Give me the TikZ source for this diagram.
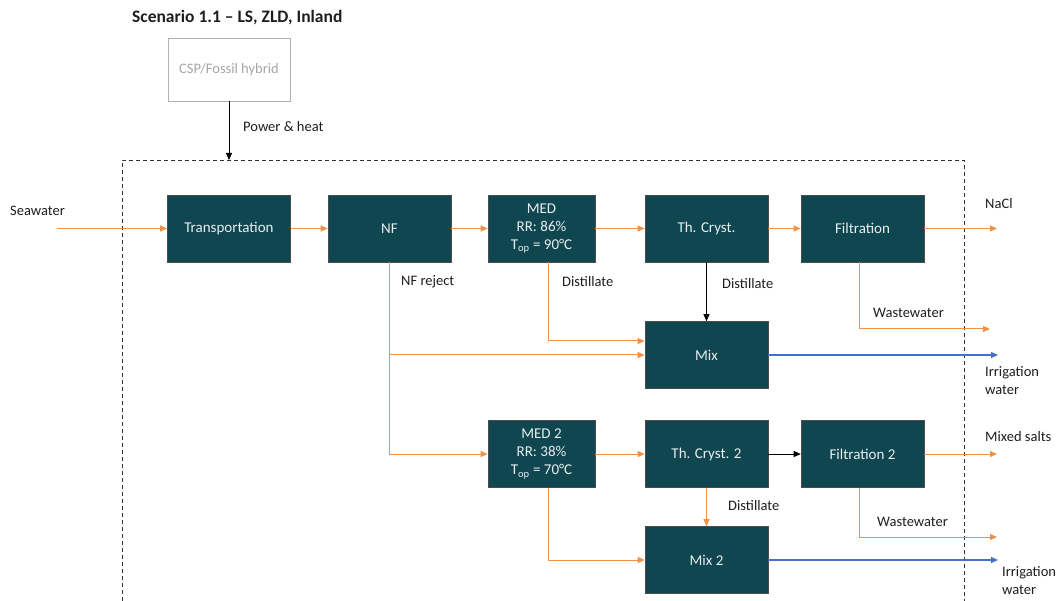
\documentclass[tikz,border=0pt]{standalone}
\usepackage{fontspec}
\setmainfont{Carlito}
\usetikzlibrary{arrows.meta,calc}
\definecolor{teal}{HTML}{10464F}
\definecolor{orng}{HTML}{F0914A}
\definecolor{blu}{HTML}{4472C4}
\definecolor{txt}{HTML}{1E1E1E}
\definecolor{boxtxt}{HTML}{E8EEF0}
\tikzset{
  box/.style={draw=black!70, line width=0.6pt, fill=teal, text=boxtxt, minimum width=123pt, minimum height=67pt, inner sep=0pt, align=center, font=\fontsize{15}{18}\selectfont},
  medbox/.style={box, minimum width=107pt},
  lbl/.style={anchor=west, text=txt, inner sep=0pt, font=\fontsize{14.5}{18}\selectfont, align=left},
  tip/.style={-{Triangle[length=7pt,width=6pt]}},
  oarr/.style={tip, draw=orng, line width=1pt},
  barr/.style={tip, draw=blu, line width=1.1pt},
  karr/.style={tip, draw=black, line width=0.9pt},
}
\begin{document}
\begin{tikzpicture}[x=1pt,y=-1pt]
\useasboundingbox (0,0) rectangle (1060,601);
% title
\node[lbl, font=\fontsize{17.5}{20}\selectfont\bfseries] (title) at (132,18) {Scenario 1.1 – LS, ZLD, Inland};
% CSP
\node[draw=black!30, line width=0.8pt, minimum width=122pt, minimum height=63pt, text=black!35, font=\fontsize{14.5}{16}\selectfont] (csp) at (229,69.5) {CSP/Fossil hybrid};
\coordinate (bnd) at (229,160);
\draw[karr] (csp.south) -- (bnd);
\node[lbl] (ph) at (243,127) {Power \& heat};
% dashed boundary
\draw[dashed, dash pattern=on 4pt off 3pt, line width=0.8pt, black!80] (122,601) -- (122,160) -- (964,160) -- (964,601);
% main row
\node[box] (trans) at (229,228.5) {Transportation};
\node[box] (nf) at (389.5,228.5) {NF};
\node[medbox] (med) at (541.5,228.5) {MED\\RR: 86\%\\T\textsubscript{op} = 90°C};
\node[box] (cryst) at (706.5,228.5) {Th. Cryst.};
\node[box] (filt) at (862.5,228.5) {Filtration};
\node[box] (mix) at (706.5,355) {Mix};
\node[medbox] (med2) at (541.5,454) {MED 2\\RR: 38\%\\T\textsubscript{op} = 70°C};
\node[box] (cryst2) at (706.5,454) {Th. Cryst. 2};
\node[box] (filt2) at (862.5,454) {Filtration 2};
\node[box] (mix2) at (706.5,560) {Mix 2};
% inputs/outputs
\coordinate (sw) at (57,228.5);
\node[lbl] (swl) at (10,211) {Seawater};
\draw[oarr] (sw) -- (trans.west);
\draw[oarr] (trans.east) -- (nf.west);
\draw[oarr] (nf.east) -- (med.west);
\draw[oarr] (med.east) -- (cryst.west);
\draw[oarr] (cryst.east) -- (filt.west);
\coordinate (nacl) at (997,228.5);
\draw[oarr] (filt.east) -- (nacl);
\node[lbl] (nacll) at (985,204) {NaCl};
\coordinate (ww1) at (990,329);
\draw[oarr] ([xshift=-3pt]filt.south) |- (ww1);
\node[lbl] (ww1l) at (873,313) {Wastewater};
\draw[karr] (cryst.south) -- (mix.north);
\node[lbl] (d1) at (722,284) {Distillate};
\draw[oarr] ([xshift=6.5pt]med.south) |- ([yshift=14pt]mix.west);
\node[lbl] (d2) at (562,282) {Distillate};
\draw[oarr] (nf.south) |- (mix.west);
\draw[oarr] (nf.south) |- (med2.west);
\node[lbl] (nfr) at (401,282) {NF reject};
\coordinate (irr1) at (998,355);
\draw[barr] (mix.east) -- (irr1);
\node[lbl] (irr1l) at (985,381) {Irrigation\\water};
% second row
\draw[oarr] (med2.east) -- (cryst2.west);
\draw[karr] (cryst2.east) -- (filt2.west);
\coordinate (ms) at (997,454);
\draw[oarr] (filt2.east) -- (ms);
\node[lbl] (msl) at (985,437) {Mixed salts};
\coordinate (ww2) at (997,537);
\draw[oarr] ([xshift=-3pt]filt2.south) |- (ww2);
\node[lbl] (ww2l) at (877,522) {Wastewater};
\draw[oarr] (cryst2.south) -- (mix2.north);
\node[lbl] (d3) at (728,506) {Distillate};
\draw[oarr] ([xshift=6.5pt]med2.south) |- (mix2.west);
\coordinate (irr2) at (998,560);
\draw[barr] (mix2.east) -- (irr2);
\node[lbl] (irr2l) at (1002,581) {Irrigation\\water};
\end{tikzpicture}
\end{document}
